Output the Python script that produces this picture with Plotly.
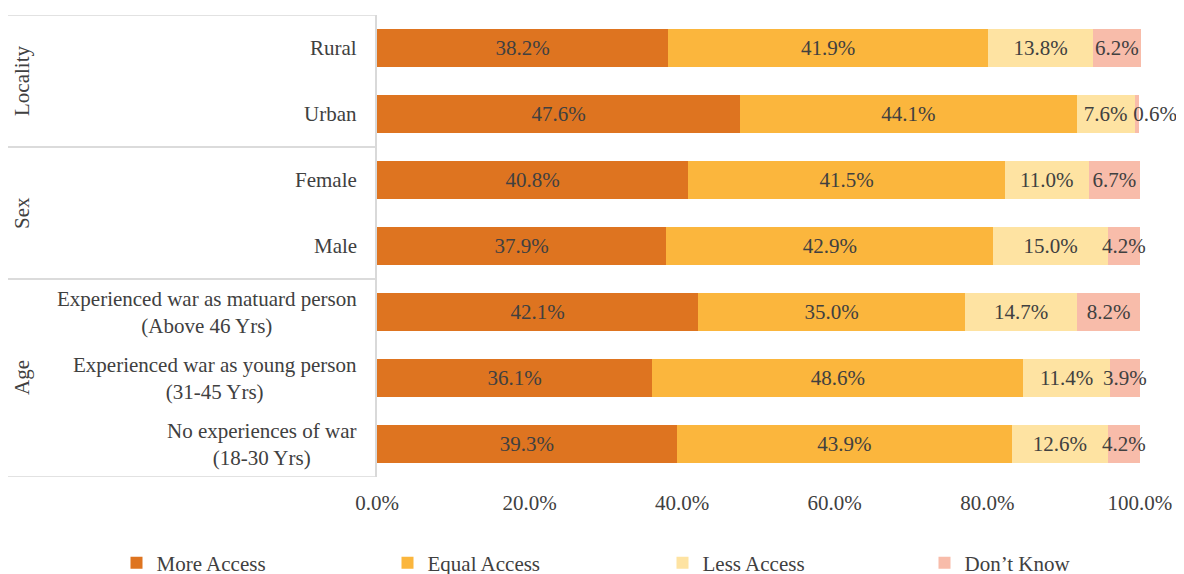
import plotly.graph_objects as go

categories = ["Rural", "Urban", "Female", "Male",
              "Experienced war as matuard person<br>(Above 46 Yrs)",
              "Experienced war as young person<br>(31-45 Yrs)",
              "No experiences of war<br>(18-30 Yrs)"]
more_access = [38.2, 47.6, 40.8, 37.9, 42.1, 36.1, 39.3]
equal_access = [41.9, 44.1, 41.5, 42.9, 35.0, 48.6, 43.9]
less_access = [13.8, 7.6, 11.0, 15.0, 14.7, 11.4, 12.6]
dont_know = [6.2, 0.6, 6.7, 4.2, 8.2, 3.9, 4.2]
series_names = ["More Access", "Equal Access", "Less Access", "Don\u2019t Know"]
colors = ["#DE7420", "#FBB63D", "#FEE3A2", "#F8BCAA"]
groups = [("Locality", 0, 1), ("Sex", 2, 3), ("Age", 4, 6)]
x_ticks = [0, 20, 40, 60, 80, 100]

FONT = "Liberation Serif, Times New Roman, serif"
TXT = "#404040"
FS = 21

# the page body adds an 8px offset; geometry below is in screen pixels
OFF = 8
L, R, T, B = 369, 51, 7, 105
PW = 1184 - L - R
PH = 574 - T - B
def px_x(p):
    return (p - OFF - L) / PW
def px_y(p):
    return (574 - B - (p - OFF)) / PH

legend_names = ["legend", "legend2", "legend3", "legend4"]
legend_px = [116.5, 387.5, 662.5, 924.5]

def label(v):
    s = f"{v:.1f}%"
    if v < 1:
        s = "\u00a0" * 7 + s
    return s

fig = go.Figure()
for name, vals, col, lg in zip(series_names, [more_access, equal_access, less_access, dont_know], colors, legend_names):
    fig.add_trace(go.Bar(
        y=list(range(len(categories))), x=vals, name=name, orientation="h",
        marker=dict(color=col, line=dict(width=0)),
        text=[label(v) for v in vals], textposition="inside", textangle=0,
        insidetextanchor="middle", constraintext="none",
        textfont=dict(family=FONT, size=FS, color=TXT),
        cliponaxis=False, legend=lg,
    ))

annotations = []
for i, c in enumerate(categories):
    annotations.append(dict(x=0, xref="paper", xshift=-18, y=i, yref="y", text=c,
                            xanchor="right", yanchor="middle", align="center",
                            showarrow=False, font=dict(family=FONT, size=FS, color=TXT)))
shapes = []
for g, a, b in groups:
    annotations.append(dict(x=px_x(22), xref="paper", y=(a + b) / 2, yref="y", text=g,
                            textangle=-90, xanchor="center", yanchor="middle",
                            showarrow=False, font=dict(family=FONT, size=FS, color=TXT)))
    for yy in (a - 0.5, b + 0.5):
        shapes.append(dict(type="line", xref="paper", x0=px_x(7), x1=0, yref="y", y0=yy, y1=yy,
                           line=dict(color="#D9D9D9", width=1.5)))

legend_layout = {}
for lg, lx in zip(legend_names, legend_px):
    legend_layout[lg] = dict(orientation="h", x=px_x(lx), xanchor="left", y=px_y(563), yanchor="middle",
                             font=dict(family=FONT, size=FS, color=TXT), itemwidth=30,
                             bgcolor="rgba(0,0,0,0)")

fig.update_layout(
    width=1184, height=574, barmode="stack", bargap=0.43,
    margin=dict(l=L, r=R, t=T, b=B, autoexpand=False),
    plot_bgcolor="white", paper_bgcolor="white",
    font=dict(family=FONT, size=FS, color=TXT),
    annotations=annotations, shapes=shapes,
    xaxis=dict(range=[0, 100.15], tickvals=x_ticks, ticktext=[f"{t:.1f}%" for t in x_ticks],
               showgrid=False, zeroline=False, showline=False, ticks="outside", ticklen=7,
               tickcolor="rgba(0,0,0,0)",
               tickfont=dict(family=FONT, size=FS, color=TXT)),
    yaxis=dict(range=[6.5, -0.5], showticklabels=False, showgrid=False, zeroline=False,
               showline=True, linecolor="#D9D9D9", linewidth=1.5, ticks=""),
    showlegend=True,
    **legend_layout,
)
fig.write_html("out.html")
